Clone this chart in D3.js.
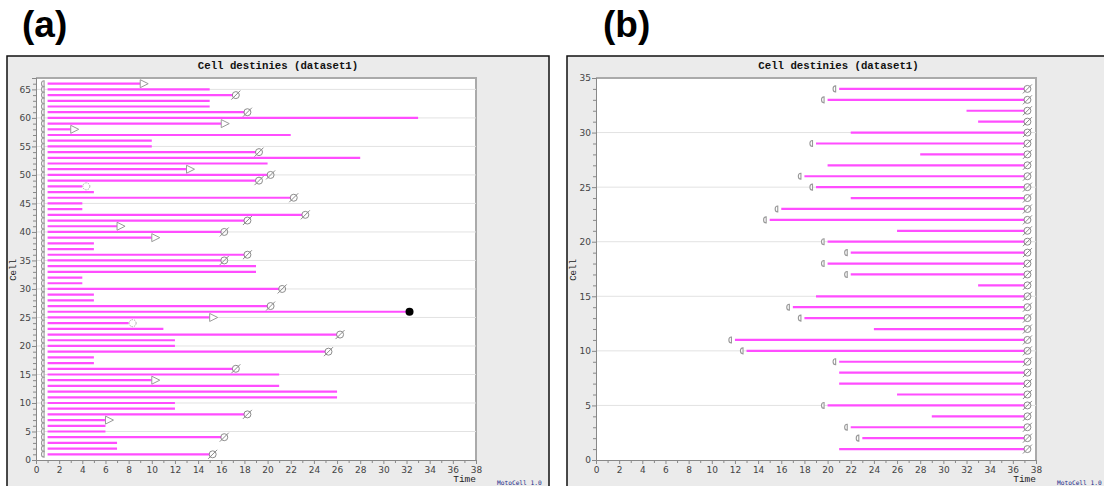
<!DOCTYPE html>
<html>
<head>
<meta charset="utf-8">
<script src="https://cdn.jsdelivr.net/npm/d3@7"></script>
<style>
  body { margin: 0; background: #fff; }
  svg { display: block; }
</style>
</head>
<body>
<svg id="chart" width="1104" height="486"></svg>
<script>
// dataset (a): every cell starts at t=1; end time and fate for cells 1..66
const aEnd = [15, 7, 7, 16, 6, 6, 6, 18, 12, 12, 26, 26, 21, 10, 21, 17, 5, 5, 25, 12,
  12, 26, 11, 8, 15, 32, 20, 5, 5, 21, 4, 4, 19, 19, 16, 18, 5, 5, 10, 16,
  7, 18, 23, 4, 4, 22, 5, 4, 19, 20, 13, 20, 28, 19, 10, 10, 22, 3, 16, 33,
  18, 15, 15, 17, 15, 9];
// D = division, T = lost (triangle), C = open circle, B = death (black dot), "" = nothing
const aFate = ["D", "", "", "D", "", "", "T", "D", "", "", "", "", "", "T", "", "D", "", "", "D", "",
  "", "D", "", "C", "T", "B", "D", "", "", "D", "", "", "", "", "D", "D", "", "", "T", "D",
  "T", "D", "D", "", "", "D", "", "C", "D", "D", "T", "", "", "D", "", "", "", "T", "T", "",
  "D", "", "", "D", "", "T"];
const aStart = 1;

// dataset (b): start times for cells 1..34, all end at t=37 with a division
const bStart = [21, 23, 22, 29, 20, 26, 21, 21, 21, 13, 12, 24, 18, 17, 19, 33, 22, 20, 22, 20,
  26, 15, 16, 22, 19, 18, 20, 28, 19, 22, 33, 32, 20, 21];
const bBirth = [0, 1, 1, 0, 1, 0, 0, 0, 1, 1, 1, 0, 1, 1, 0, 0, 1, 1, 1, 1,
  0, 1, 1, 0, 1, 1, 0, 0, 1, 0, 0, 0, 1, 1];
const bEnd = 37;

const xTicks = d3.range(0, 39, 2);
const titleText = "Cell destinies (dataset1)";

const aRows = aEnd.map((e, i) => ({ cell: i + 1, start: aStart, end: e, fate: aFate[i], birth: true }));
const bRows = bStart.map((s, i) => ({ cell: i + 1, start: s, end: bEnd, fate: "D", birth: !!bBirth[i] }));

const svg = d3.select("#chart");
const LINE = "#ff4dff", MARK = "#8c8c8c";

function panel(cfg) {
  const g = svg.append("g");
  const { fx0, fx1, px0, px1, rows, yMax, yStep, label, lx } = cfg;
  const top = 78, bottom = 460;

  g.append("text").attr("x", lx).attr("y", 37)
    .attr("font-family", "Liberation Sans, Arial, sans-serif")
    .attr("font-weight", "bold").attr("font-size", 37).attr("fill", "#000")
    .text(label);

  g.append("rect").attr("x", fx0).attr("y", 56).attr("width", fx1 - fx0).attr("height", 460)
    .attr("fill", "#ebebeb").attr("stroke", "#111").attr("stroke-width", 1.5);

  g.append("text").attr("x", (fx0 + fx1) / 2).attr("y", 69).attr("text-anchor", "middle")
    .attr("font-family", "Liberation Mono, DejaVu Sans Mono, monospace")
    .attr("font-weight", "bold").attr("font-size", 10.7).attr("fill", "#111")
    .text(titleText);

  const x = d3.scaleLinear().domain([0, 38]).range([px0, px1]);
  const y = d3.scaleLinear().domain([0, yMax]).range([bottom, top]);

  g.append("rect").attr("x", px0).attr("y", top).attr("width", px1 - px0).attr("height", bottom - top)
    .attr("fill", "#fff");
  // plot border top/right
  g.append("path").attr("d", `M${px0},${top}H${px1}V${bottom}`)
    .attr("fill", "none").attr("stroke", "#aaa").attr("stroke-width", 2);

  // gridlines every 5
  g.append("g").selectAll("line").data(d3.range(5, yMax, 5)).join("line")
    .attr("x1", px0).attr("x2", px1).attr("y1", d => y(d)).attr("y2", d => y(d))
    .attr("stroke", "#e2e2e2").attr("stroke-width", 1);

  // life lines
  g.append("g").selectAll("line").data(rows).join("line")
    .attr("x1", d => x(d.start)).attr("x2", d => x(d.end))
    .attr("y1", d => y(d.cell)).attr("y2", d => y(d.cell))
    .attr("stroke", LINE).attr("stroke-width", 2.2);

  // birth markers
  g.append("g").selectAll("path").data(rows.filter(d => d.birth)).join("path")
    .attr("transform", d => `translate(${x(d.start) - 4},${y(d.cell)})`)
    .attr("d", "M0.5,-3 A2.6,3 0 0 0 0.5,3 Z")
    .attr("fill", "#fff").attr("stroke", "#999").attr("stroke-width", 1.1);

  // fate markers
  const fm = g.append("g").selectAll("g").data(rows.filter(d => d.fate)).join("g")
    .attr("transform", d => `translate(${x(d.end) + 3},${y(d.cell)})`);
  fm.filter(d => d.fate === "D").call(s => {
    s.append("circle").attr("r", 3.5).attr("fill", "none").attr("stroke", MARK).attr("stroke-width", 1);
    s.append("line").attr("x1", -4.5).attr("y1", 4.5).attr("x2", 4.5).attr("y2", -4.5)
      .attr("stroke", MARK).attr("stroke-width", 1);
  });
  fm.filter(d => d.fate === "T").append("path").attr("d", "M-3,-4 L5,0 L-3,4 Z")
    .attr("fill", "#fff").attr("stroke", "#9a9a9a").attr("stroke-width", 1);
  fm.filter(d => d.fate === "C").append("circle").attr("r", 3.5).attr("cx", 1)
    .attr("fill", "#fff").attr("stroke", "#aaa").attr("stroke-width", 1).attr("stroke-dasharray", "1.5,1");
  fm.filter(d => d.fate === "B").append("circle").attr("r", 4).attr("fill", "#000");

  const styleAxis = a => {
    a.selectAll(".domain").attr("stroke", "#888");
    a.selectAll(".tick line").attr("stroke", "#888");
    a.selectAll("text").attr("fill", "#444").attr("font-size", 9)
      .attr("font-family", "DejaVu Sans, sans-serif");
  };

  g.append("g").attr("transform", `translate(0,${bottom})`)
    .call(d3.axisBottom(x).tickValues(d3.range(1, 38, 2)).tickSize(3).tickFormat(""))
    .call(styleAxis);
  g.append("g").attr("transform", `translate(0,${bottom})`)
    .call(d3.axisBottom(x).tickValues(xTicks).tickSize(4).tickPadding(3))
    .call(styleAxis);

  g.append("g").attr("transform", `translate(${px0},0)`)
    .call(d3.axisLeft(y).tickValues(d3.range(1, yMax).filter(v => v % yStep)).tickSize(3).tickFormat(""))
    .call(styleAxis);
  g.append("g").attr("transform", `translate(${px0},0)`)
    .call(d3.axisLeft(y).tickValues(d3.range(0, yMax + 1, yStep).filter(v => v <= yMax)).tickSize(4).tickPadding(1))
    .call(styleAxis);

  g.append("text").attr("transform", `translate(${fx0 + 9},270) rotate(-90)`)
    .attr("text-anchor", "middle")
    .attr("font-family", "Liberation Mono, DejaVu Sans Mono, monospace")
    .attr("font-size", 9).attr("fill", "#222").text("Cell");

  g.append("text").attr("x", px1).attr("y", 482).attr("text-anchor", "end")
    .attr("font-family", "Liberation Mono, DejaVu Sans Mono, monospace")
    .attr("font-size", 9.5).attr("fill", "#222").text("Time");

  g.append("text").attr("x", px1 + 21).attr("y", 485)
    .attr("font-family", "DejaVu Sans Mono, monospace")
    .attr("font-size", 6.2).attr("fill", "#1a2a8a").text("MotoCell 1.0");
}

panel({ fx0: 7, fx1: 549, px0: 36, px1: 476, rows: aRows, yMax: 67, yStep: 5, label: "(a)", lx: 22 });
panel({ fx0: 567, fx1: 1110, px0: 596, px1: 1036, rows: bRows, yMax: 35, yStep: 5, label: "(b)", lx: 603 });
</script>
</body>
</html>
